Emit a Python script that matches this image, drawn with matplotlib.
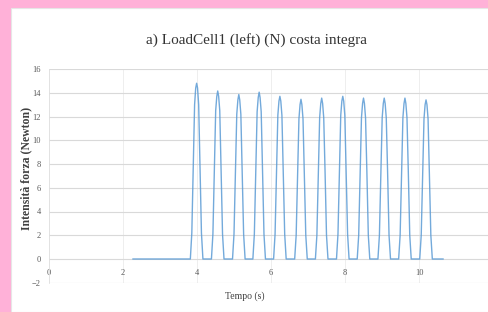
import matplotlib
matplotlib.use("Agg")
import matplotlib.pyplot as plt
from matplotlib.patches import Rectangle

title = "a) LoadCell1 (left) (N) costa integra"
x_label = "Tempo (s)"
y_label = "Intensità forza (Newton)"
x_ticks = [0, 2, 4, 6, 8, 10]
y_ticks = [-2, 0, 2, 4, 6, 8, 10, 12, 14, 16]

# time (s) and force (N) samples
time_s = [2.27,
          3.82, 3.86, 3.90, 3.935, 3.965, 3.99, 4.015, 4.045, 4.08, 4.12, 4.16,
          4.39, 4.43, 4.47, 4.505, 4.535, 4.56, 4.585, 4.615, 4.65, 4.69, 4.73,
          4.96, 5.00, 5.04, 5.075, 5.105, 5.13, 5.155, 5.185, 5.22, 5.26, 5.30,
          5.51, 5.55, 5.59, 5.625, 5.655, 5.68, 5.705, 5.735, 5.77, 5.81, 5.85,
          6.07, 6.11, 6.15, 6.185, 6.215, 6.24, 6.265, 6.295, 6.33, 6.37, 6.41,
          6.64, 6.68, 6.72, 6.755, 6.785, 6.81, 6.835, 6.865, 6.90, 6.94, 6.98,
          7.20, 7.24, 7.28, 7.315, 7.345, 7.37, 7.395, 7.425, 7.46, 7.50, 7.54,
          7.77, 7.81, 7.85, 7.885, 7.915, 7.94, 7.965, 7.995, 8.03, 8.07, 8.11,
          8.33, 8.37, 8.41, 8.445, 8.475, 8.50, 8.525, 8.555, 8.59, 8.63, 8.67,
          8.89, 8.93, 8.97, 9.005, 9.035, 9.06, 9.085, 9.115, 9.15, 9.19, 9.23,
          9.45, 9.49, 9.53, 9.565, 9.595, 9.62, 9.645, 9.675, 9.71, 9.75, 9.79,
          10.02, 10.06, 10.10, 10.135, 10.165, 10.19, 10.215, 10.245, 10.28, 10.32, 10.36,
          10.65]
force_n = [0.0,
           0, 2.2, 8.1, 13.0, 14.4, 14.8, 14.4, 13.0, 8.1, 2.2, 0,
           0, 2.1, 7.8, 12.5, 13.7, 14.15, 13.7, 12.5, 7.8, 2.1, 0,
           0, 2.1, 7.6, 12.2, 13.4, 13.85, 13.4, 12.2, 7.6, 2.1, 0,
           0, 2.1, 7.7, 12.4, 13.6, 14.05, 13.6, 12.4, 7.7, 2.1, 0,
           0, 2.1, 7.5, 12.1, 13.3, 13.7, 13.3, 12.1, 7.5, 2.1, 0,
           0, 2.0, 7.4, 11.8, 13.0, 13.45, 13.0, 11.8, 7.4, 2.0, 0,
           0, 2.0, 7.5, 11.9, 13.1, 13.55, 13.1, 11.9, 7.5, 2.0, 0,
           0, 2.1, 7.5, 12.1, 13.3, 13.7, 13.3, 12.1, 7.5, 2.1, 0,
           0, 2.0, 7.5, 11.9, 13.1, 13.55, 13.1, 11.9, 7.5, 2.0, 0,
           0, 2.0, 7.5, 11.9, 13.1, 13.55, 13.1, 11.9, 7.5, 2.0, 0,
           0, 2.0, 7.5, 11.9, 13.1, 13.55, 13.1, 11.9, 7.5, 2.0, 0,
           0, 2.0, 7.4, 11.8, 13.0, 13.4, 13.0, 11.8, 7.4, 2.0, 0,
           0.0]

serif = ["Liberation Serif", "DejaVu Serif"]

fig = plt.figure(figsize=(4.88, 3.12), dpi=100, facecolor="#FFB1D8")
fig.patches.append(Rectangle((11 / 488, 0), 1, 304 / 312, transform=fig.transFigure,
                             facecolor="white", edgecolor="#E6E6E6", lw=0.8, zorder=-5))

ax = fig.add_axes([49 / 488, 29.25 / 312, 444 / 488, 213.75 / 312], zorder=2)
ax.patch.set_alpha(0)
ax.plot(time_s, force_n, color="#5B9BD5", lw=1.0, alpha=0.85, zorder=3)

ax.set_xlim(0, 12)
ax.set_ylim(-2, 16)
ax.set_xticks(x_ticks)
ax.set_xticks([12], minor=True)
ax.set_yticks(y_ticks)
ax.grid(True, axis="y", color="#D9D9D9", lw=0.8)
ax.grid(True, axis="x", which="both", color="#EBEBEB", lw=0.6)
ax.set_axisbelow(True)

for s in ["top", "right"]:
    ax.spines[s].set_visible(False)
ax.spines["left"].set_color("#E0E0E0")
ax.spines["left"].set_linewidth(0.6)
ax.spines["bottom"].set_position(("data", 0))
ax.spines["bottom"].set_visible(False)
ax.tick_params(axis="both", which="both", length=0, labelsize=6, labelcolor="#595959")
ax.tick_params(axis="x", pad=7)
ax.tick_params(axis="y", pad=6)
for lbl in ax.get_xticklabels() + ax.get_yticklabels():
    lbl.set_fontfamily(serif)

fig.text(256 / 488, 1 - 40 / 312, title, ha="center", va="center",
         fontsize=11, family=serif, color="#333333")
fig.text(26 / 488, 1 - 168 / 312, y_label, ha="center", va="center", rotation=90,
         fontsize=8.5, family=serif, fontweight="bold", color="#404040")
fig.text(245 / 488, 1 - 296 / 312, x_label, ha="center", va="center",
         fontsize=7, family=serif, color="#404040")

fig.savefig("out.png", dpi=100, facecolor=fig.get_facecolor())
